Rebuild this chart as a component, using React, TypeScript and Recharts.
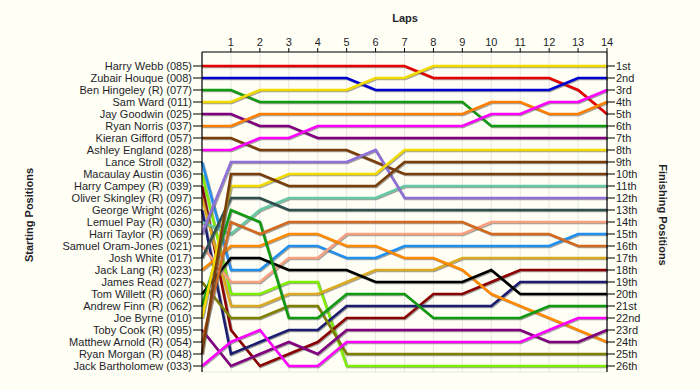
import React from 'react';
import { LineChart, Line, XAxis, YAxis, CartesianGrid } from 'recharts';

const laps = [0, 1, 2, 3, 4, 5, 6, 7, 8, 9, 10, 11, 12, 13, 14];
const lapTicks = [1, 2, 3, 4, 5, 6, 7, 8, 9, 10, 11, 12, 13, 14];
const positionTicks = [1, 2, 3, 4, 5, 6, 7, 8, 9, 10, 11, 12, 13, 14, 15, 16, 17, 18, 19, 20, 21, 22, 23, 24, 25, 26];

const startNames = [
  'Harry Webb (085)', 'Zubair Houque (008)', 'Ben Hingeley (R) (077)', 'Sam Ward (011)',
  'Jay Goodwin (025)', 'Ryan Norris (037)', 'Kieran Gifford (057)', 'Ashley England (028)',
  'Lance Stroll (032)', 'Macaulay Austin (036)', 'Harry Campey (R) (039)', 'Oliver Skingley  (R) (097)',
  'George Wright (026)', 'Lemuel Pay (R) (030)', 'Harri Taylor (R) (069)', 'Samuel Oram-Jones (021)',
  'Josh White (017)', 'Jack Lang (R) (023)', 'James Read (027)', 'Tom Willett  (R) (060)',
  'Andrew Finn (R) (062)', 'Joe Byrne (010)', 'Toby Cook  (R) (095)', 'Matthew Arnold (R) (054)',
  'Ryan Morgan (R) (048)', 'Jack Bartholomew (033)',
];

const finishLabels = [
  '1st', '2nd', '3rd', '4th', '5th', '6th', '7th', '8th', '9th', '10th', '11th', '12th', '13th',
  '14th', '15th', '16th', '17th', '18th', '19th', '20th', '21st', '22nd', '23rd', '24th', '25th', '26th',
];

// positions per lap (lap 0 = start)
const harryWebb = [1, 1, 1, 1, 1, 1, 1, 1, 2, 2, 2, 2, 2, 3, 5];
const zubairHouque = [2, 2, 2, 2, 2, 2, 3, 3, 3, 3, 3, 3, 3, 2, 2];
const benHingeley = [3, 3, 4, 4, 4, 4, 4, 4, 4, 4, 6, 6, 6, 6, 6];
const samWard = [4, 4, 3, 3, 3, 3, 2, 2, 1, 1, 1, 1, 1, 1, 1];
const jayGoodwin = [5, 5, 6, 6, 7, 7, 7, 7, 7, 7, 7, 7, 7, 7, 7];
const ryanNorris = [6, 6, 5, 5, 5, 5, 5, 5, 5, 5, 4, 4, 5, 5, 4];
const kieranGifford = [7, 7, 8, 8, 8, 8, 9, 10, 10, 10, 10, 10, 10, 10, 10];
const ashleyEngland = [8, 8, 7, 7, 6, 6, 6, 6, 6, 6, 5, 5, 4, 4, 3];
const lanceStroll = [9, 18, 18, 16, 16, 17, 17, 16, 16, 16, 16, 16, 16, 15, 15];
const macaulayAustin = [10, 20, 20, 19, 19, 26, 26, 26, 26, 26, 26, 26, 26, 26, 26];
const harryCampey = [11, 23, 26, 25, 24, 22, 22, 22, 20, 20, 19, 18, 18, 18, 18];
const oliverSkingley = [12, 21, 21, 20, 20, 19, 18, 18, 18, 17, 17, 17, 17, 17, 17];
const georgeWright = [13, 25, 24, 23, 23, 21, 21, 21, 21, 21, 21, 19, 19, 19, 19];
const lemuelPay = [14, 15, 13, 12, 12, 12, 12, 11, 11, 11, 11, 11, 11, 11, 11];
const harriTaylor = [15, 9, 9, 9, 9, 9, 8, 12, 12, 12, 12, 12, 12, 12, 12];
const samuelOramJones = [16, 19, 19, 17, 17, 15, 15, 15, 15, 15, 14, 14, 14, 14, 14];
const joshWhite = [17, 12, 12, 13, 13, 13, 13, 13, 13, 13, 13, 13, 13, 13, 13];
const jackLang = [18, 16, 16, 15, 15, 16, 16, 17, 17, 18, 20, 21, 22, 23, 24];
const jamesRead = [19, 22, 22, 21, 21, 25, 25, 25, 25, 25, 25, 25, 25, 25, 25];
const tomWillett = [20, 17, 17, 18, 18, 18, 19, 19, 19, 19, 18, 20, 20, 20, 20];
const andrewFinn = [21, 13, 14, 22, 22, 20, 20, 20, 22, 22, 22, 22, 21, 21, 21];
const joeByrne = [22, 11, 11, 10, 10, 10, 10, 8, 8, 8, 8, 8, 8, 8, 8];
const tobyCook = [23, 26, 25, 24, 25, 23, 23, 23, 23, 23, 23, 23, 24, 24, 23];
const matthewArnold = [24, 14, 15, 14, 14, 14, 14, 14, 14, 14, 15, 15, 15, 16, 16];
const ryanMorgan = [25, 10, 10, 11, 11, 11, 11, 9, 9, 9, 9, 9, 9, 9, 9];
const jackBartholomew = [26, 24, 23, 26, 26, 24, 24, 24, 24, 24, 24, 24, 23, 22, 22];

const driverSeries = [
  { key: 'd085', color: '#e60000', pos: harryWebb },
  { key: 'd008', color: '#0000d0', pos: zubairHouque },
  { key: 'd077', color: '#129a12', pos: benHingeley },
  { key: 'd011', color: '#f2da00', pos: samWard },
  { key: 'd025', color: '#800080', pos: jayGoodwin },
  { key: 'd037', color: '#ff8000', pos: ryanNorris },
  { key: 'd057', color: '#7a3e0a', pos: kieranGifford },
  { key: 'd028', color: '#ff00ff', pos: ashleyEngland },
  { key: 'd032', color: '#2090f0', pos: lanceStroll },
  { key: 'd036', color: '#80ee00', pos: macaulayAustin },
  { key: 'd039', color: '#8b0000', pos: harryCampey },
  { key: 'd097', color: '#dcaa20', pos: oliverSkingley },
  { key: 'd026', color: '#1c1c70', pos: georgeWright },
  { key: 'd030', color: '#66c8a4', pos: lemuelPay },
  { key: 'd069', color: '#9070d8', pos: harriTaylor },
  { key: 'd021', color: '#f8a080', pos: samuelOramJones },
  { key: 'd017', color: '#2f4f4f', pos: joshWhite },
  { key: 'd023', color: '#ff8a00', pos: jackLang },
  { key: 'd027', color: '#808000', pos: jamesRead },
  { key: 'd060', color: '#000000', pos: tomWillett },
  { key: 'd062', color: '#109a10', pos: andrewFinn },
  { key: 'd010', color: '#f2da00', pos: joeByrne },
  { key: 'd095', color: '#800080', pos: tobyCook },
  { key: 'd054', color: '#d2691e', pos: matthewArnold },
  { key: 'd048', color: '#7a3e0a', pos: ryanMorgan },
  { key: 'd033', color: '#ff00ff', pos: jackBartholomew },
];

const data = laps.map((lap, i) => {
  const row: Record<string, number> = { lap };
  driverSeries.forEach((d) => {
    row[d.key] = d.pos[i];
  });
  return row;
});

const FONT = '"Liberation Sans", Arial, sans-serif';
const TEXT = '#1e1e2a';
const BG = '#fffff5';

const tickStyle = { fill: TEXT, fontSize: 11, fontFamily: FONT };

export default function App() {
  return (
    <div
      style={{
        position: 'absolute',
        left: 0,
        top: 0,
        width: 700,
        height: 390,
        background: BG,
        overflow: 'hidden',
        fontFamily: FONT,
      }}
    >
      <style>{`.recharts-line-curve { filter: drop-shadow(1px 1.5px 0px rgba(90,90,90,0.55)); }`}</style>
      <LineChart
        width={700}
        height={390}
        data={data}
        margin={{ top: 0, right: 0, bottom: 18, left: 0 }}
      >
        <CartesianGrid stroke="#e6e6e6" strokeWidth={1} />
        <XAxis
          dataKey="lap"
          type="number"
          orientation="top"
          domain={[0, 14]}
          ticks={lapTicks}
          interval={0}
          height={52}
          tick={tickStyle}
          tickSize={4}
          tickMargin={2}
          axisLine={{ stroke: '#000', strokeWidth: 1.2 }}
          tickLine={{ stroke: '#000' }}
        />
        <YAxis
          yAxisId="left"
          type="number"
          orientation="left"
          domain={[-1 / 6, 26.5]}
          reversed
          ticks={positionTicks}
          interval={0}
          width={202}
          tick={tickStyle}
          tickSize={9}
          tickMargin={1}
          tickFormatter={(v: number) => startNames[v - 1] ?? ''}
          axisLine={{ stroke: '#000', strokeWidth: 1.2 }}
          tickLine={{ stroke: '#000' }}
          allowDataOverflow
        />
        <YAxis
          yAxisId="right"
          type="number"
          orientation="right"
          domain={[-1 / 6, 26.5]}
          reversed
          ticks={positionTicks}
          interval={0}
          width={93}
          tick={tickStyle}
          tickSize={8}
          tickMargin={1}
          tickFormatter={(v: number) => finishLabels[v - 1] ?? ''}
          axisLine={{ stroke: '#000', strokeWidth: 1.2 }}
          tickLine={{ stroke: '#000' }}
          allowDataOverflow
        />
        {driverSeries.map((d) => (
          <Line
            key={d.key}
            yAxisId="left"
            dataKey={d.key}
            type="linear"
            stroke={d.color}
            strokeWidth={2.6}
            dot={false}
            activeDot={false}
            isAnimationActive={false}
          />
        ))}
      </LineChart>
      <div
        style={{
          position: 'absolute',
          left: 405,
          top: 18,
          transform: 'translate(-50%, -50%)',
          fontWeight: 'bold',
          fontSize: 11,
          color: TEXT,
          whiteSpace: 'nowrap',
        }}
      >
        Laps
      </div>
      <div
        style={{
          position: 'absolute',
          left: 29,
          top: 215,
          transform: 'translate(-50%, -50%) rotate(-90deg)',
          fontWeight: 'bold',
          fontSize: 11,
          color: TEXT,
          whiteSpace: 'nowrap',
        }}
      >
        Starting Positions
      </div>
      <div
        style={{
          position: 'absolute',
          left: 663,
          top: 215,
          transform: 'translate(-50%, -50%) rotate(90deg)',
          fontWeight: 'bold',
          fontSize: 11,
          color: TEXT,
          whiteSpace: 'nowrap',
        }}
      >
        Finishing Positions
      </div>
    </div>
  );
}
